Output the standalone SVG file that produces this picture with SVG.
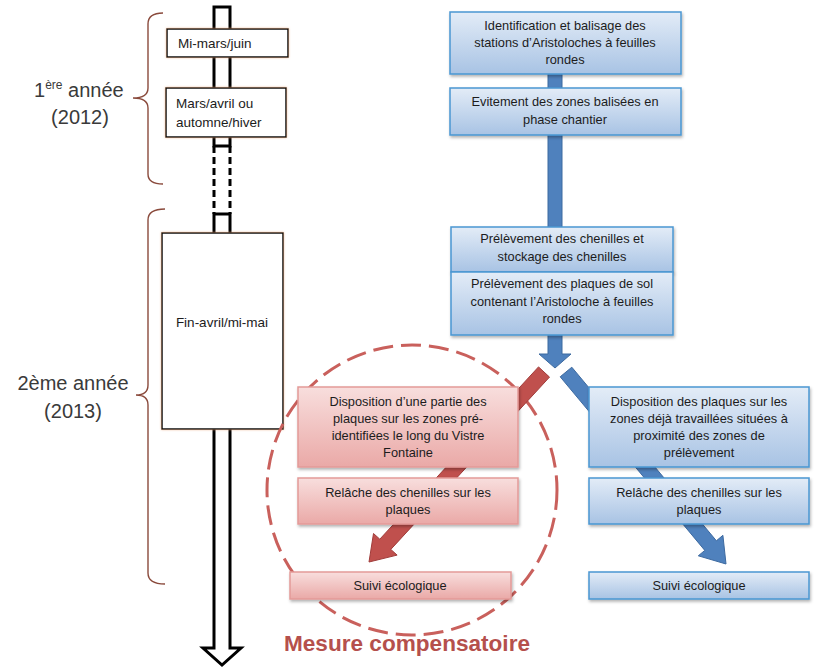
<svg xmlns="http://www.w3.org/2000/svg" width="818" height="668" viewBox="0 0 818 668">
<defs>
<linearGradient id="gb" x1="0" y1="0" x2="0" y2="1">
<stop offset="0" stop-color="#e3ecf7"/><stop offset="1" stop-color="#a8c3e4"/>
</linearGradient>
<linearGradient id="gr" x1="0" y1="0" x2="0" y2="1">
<stop offset="0" stop-color="#f8dedd"/><stop offset="1" stop-color="#eaa9a7"/>
</linearGradient>
<filter id="sh" x="-10%" y="-20%" width="120%" height="150%">
<feDropShadow dx="1" dy="2" stdDeviation="1.5" flood-color="#000" flood-opacity="0.3"/>
</filter>
<filter id="osh" x="-10%" y="-10%" width="120%" height="120%">
<feDropShadow dx="0" dy="0" stdDeviation="1" flood-color="#e8a070" flood-opacity="0.7"/>
</filter>
</defs>
<style>
text{font-family:"Liberation Sans",Arial,sans-serif;fill:#1c1c1c}
.bt{font-size:12.8px;text-anchor:middle}
.lt{font-size:13.5px}
.yr{font-size:20px;fill:#3a3a3a}
.bb{fill:url(#gb);stroke:#4a97d2;stroke-width:1.5;filter:url(#sh)}
.rb{fill:url(#gr);stroke:#e39a98;stroke-width:1.5;filter:url(#sh)}
.wb{fill:#fff;stroke:#111;stroke-width:1.5;filter:url(#osh)}
.tl{fill:none;stroke:#000;stroke-width:3}
.br{fill:none;stroke:#8a4a3c;stroke-width:1.4}
</style>
<rect width="818" height="668" fill="#fff"/>

<g id="timeline">
<path class="tl" d="M214,57 V7 H230 V57"/>
<path class="tl" d="M214,137 V146 H230 V137"/>
<path class="tl" d="M214,146 V214 M230,146 V214" stroke-dasharray="7,4"/>
<path class="tl" d="M214,233 V214 H230 V233"/>
<path class="tl" d="M214,57 V88 M230,57 V88"/>
<path d="M214,429 V648 H203 L222,665 L241,648 H230 V429" fill="#fff" stroke="#000" stroke-width="3" stroke-linejoin="miter"/>
</g>

<g id="brace1"><path class="br" d="M163,13 Q148,13 148,24 V88 Q148,98 133,98 Q148,98 148,108 V174 Q148,184 163,184"/></g>
<g id="brace2"><path class="br" d="M165,209 Q148,209 148,220 V385 Q148,395 136,395 Q148,395 148,405 V573 Q148,584 165,584"/></g>

<g id="label-2012">
<text class="yr" x="34" y="97">1<tspan font-size="12" dy="-8">ère</tspan><tspan dy="8"> année</tspan></text>
<text class="yr" x="80" y="124" text-anchor="middle" font-size="21">(2012)</text>
</g>
<g id="label-2013">
<text class="yr" x="73" y="390" text-anchor="middle">2ème année</text>
<text class="yr" x="73" y="418" text-anchor="middle" font-size="21">(2013)</text>
</g>

<g id="t1"><rect class="wb" x="167" y="29" width="121" height="28"/><text class="lt" x="178" y="48">Mi-mars/juin</text></g>
<g id="t2"><rect class="wb" x="166" y="88" width="120" height="49"/><text class="lt" x="176" y="108">Mars/avril ou</text><text class="lt" x="176" y="127">automne/hiver</text></g>
<g id="t3"><rect class="wb" x="162" y="233" width="121" height="196"/><text class="lt" x="222" y="327" text-anchor="middle">Fin-avril/mi-mai</text></g>

<circle id="zone" cx="412" cy="490" r="145" fill="none" stroke="#c9605c" stroke-width="3" stroke-dasharray="20,8"/>

<g id="connectors">
<rect x="548" y="70" width="14" height="285" fill="#4f81bd" stroke="#3d6aa0" stroke-width="1"/>
<path d="M548,354 H539 L555,368 L571,354 H562" fill="#4f81bd" stroke="#3d6aa0" stroke-width="1"/>
<polygon points="549.5,377.1 390.8,549.4 397.1,555.1 369,562 373.5,533.5 379.8,539.2 538.5,366.9" fill="#c0504d" stroke="#a03c3a" stroke-width="1"/>
<polygon points="571.8,367.2 716.4,540.8 722.9,535.3 726,564 698.3,555.8 704.8,550.4 560.2,376.8" fill="#4f81bd" stroke="#3d6aa0" stroke-width="1"/>
</g>

<g id="b1"><rect class="bb" x="450" y="12" width="231" height="62"/>
<text class="bt" x="565" y="30">Identification et balisage des</text>
<text class="bt" x="565" y="47">stations d’Aristoloches à feuilles</text>
<text class="bt" x="565" y="64">rondes</text></g>
<g id="b2"><rect class="bb" x="450" y="88" width="231" height="47"/>
<text class="bt" x="565" y="106">Evitement des zones balisées en</text>
<text class="bt" x="565" y="124">phase chantier</text></g>
<g id="b3"><rect class="bb" x="451" y="227" width="222" height="45"/>
<text class="bt" x="562" y="243">Prélèvement des chenilles et</text>
<text class="bt" x="562" y="261">stockage des chenilles</text></g>
<g id="b4"><rect class="bb" x="451" y="272" width="222" height="63"/>
<text class="bt" x="562" y="288">Prélèvement des plaques de sol</text>
<text class="bt" x="562" y="306">contenant l’Aristoloche à feuilles</text>
<text class="bt" x="562" y="323">rondes</text></g>

<g id="r1"><rect class="rb" x="298" y="387" width="220" height="80"/>
<text class="bt" x="408" y="406">Disposition d’une partie des</text>
<text class="bt" x="408" y="423">plaques sur les zones pré-</text>
<text class="bt" x="408" y="440">identifiées le long du Vistre</text>
<text class="bt" x="408" y="457">Fontaine</text></g>
<g id="r2"><rect class="rb" x="298" y="478" width="220" height="46"/>
<text class="bt" x="408" y="497">Relâche des chenilles sur les</text>
<text class="bt" x="408" y="514">plaques</text></g>
<g id="r3"><rect class="rb" x="290" y="572" width="221" height="27"/>
<text class="bt" x="400" y="590" font-size="12.2">Suivi écologique</text></g>

<g id="c1"><rect class="bb" x="589" y="387" width="220" height="80"/>
<text class="bt" x="699" y="406">Disposition des plaques sur les</text>
<text class="bt" x="699" y="423">zones déjà travaillées situées à</text>
<text class="bt" x="699" y="440">proximité des zones de</text>
<text class="bt" x="699" y="457">prélèvement</text></g>
<g id="c2"><rect class="bb" x="589" y="478" width="220" height="46"/>
<text class="bt" x="699" y="497">Relâche des chenilles sur les</text>
<text class="bt" x="699" y="514">plaques</text></g>
<g id="c3"><rect class="bb" x="589" y="572" width="220" height="27"/>
<text class="bt" x="699" y="590" font-size="12.2">Suivi écologique</text></g>

<text x="284" y="651" font-size="22" font-weight="bold" textLength="246" lengthAdjust="spacingAndGlyphs" style="fill:#b5504c">Mesure compensatoire</text>
</svg>
